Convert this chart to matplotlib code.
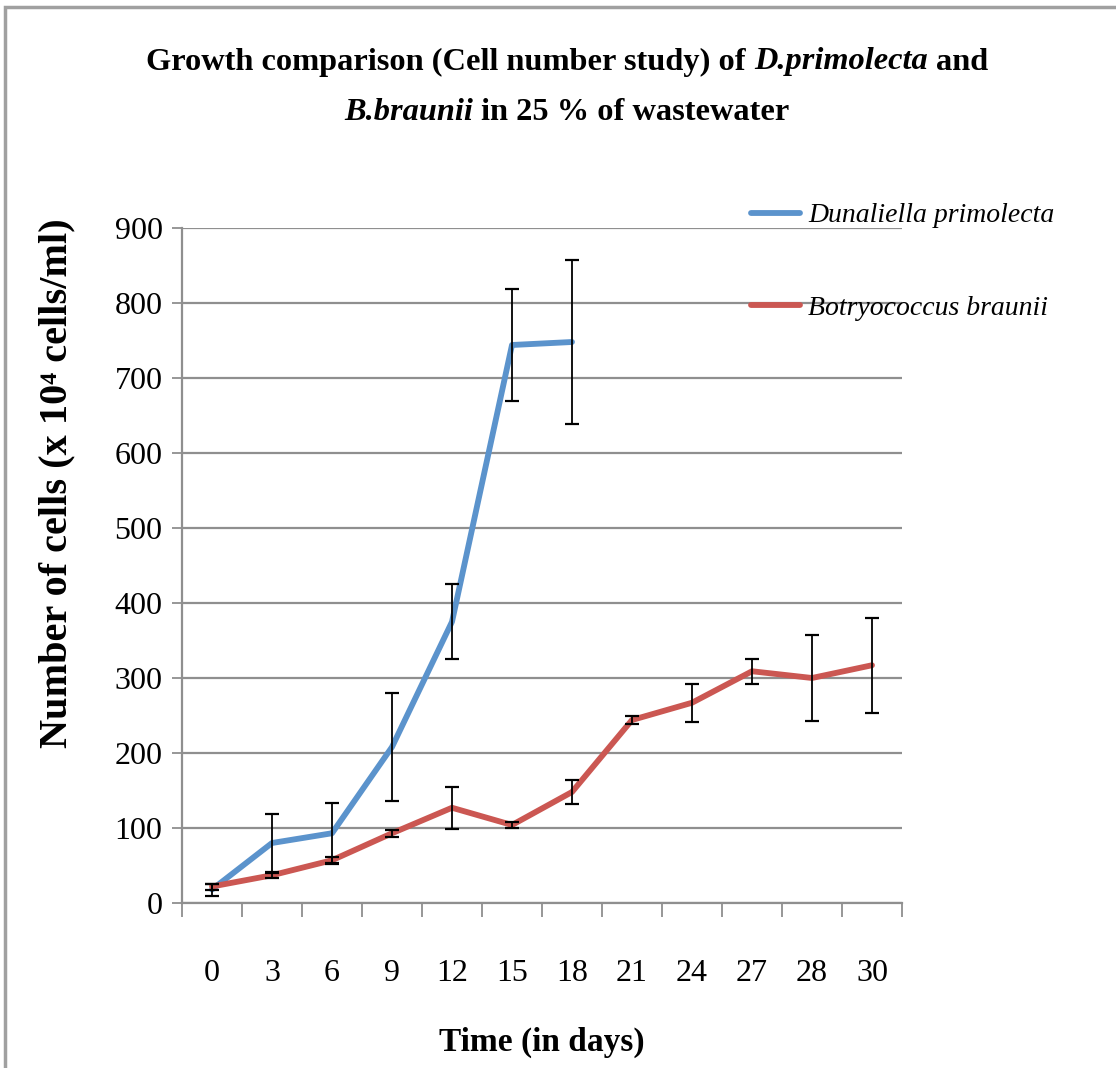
import matplotlib
matplotlib.use("Agg")
import matplotlib.pyplot as plt
from matplotlib.patches import Rectangle
import numpy as np

days = ["0", "3", "6", "9", "12", "15", "18", "21", "24", "27", "28", "30"]
dunaliella = [18, 80, 93, 208, 375, 744, 748]
dunaliella_err = [8, 39, 40, 72, 50, 75, 109]
botryococcus = [22, 37, 57, 93, 127, 104, 148, 244, 267, 309, 300, 317]
botryococcus_err = [4, 3, 5, 5, 28, 4, 16, 5, 25, 17, 57, 63]
yticks = list(range(0, 901, 100))

title_line1 = [("Growth comparison (Cell number study) of ", "normal"),
               ("D.primolecta", "italic"), (" and", "normal")]
title_line2 = [("B.braunii", "italic"), (" in 25 % of wastewater", "normal")]

plt.rcParams['font.family'] = ['Liberation Serif', 'DejaVu Serif']

fig = plt.figure(figsize=(11.16, 10.68), dpi=100)
W, H = 1116, 1068
ax = fig.add_axes([182 / W, 1 - 903 / H, (902 - 182) / W, (903 - 228) / H])

blue = '#5B93CC'
red = '#CB5752'
grid_c = '#8f8f8f'

x_all = np.arange(len(days))
xb = x_all[:len(dunaliella)]

ax.plot(xb, dunaliella, color=blue, lw=4.2, solid_capstyle='round', zorder=3,
        label='Dunaliella primolecta')
ax.plot(x_all, botryococcus, color=red, lw=4.2, solid_capstyle='round', zorder=3,
        label='Botryococcus braunii')
ax.errorbar(xb, dunaliella, yerr=dunaliella_err, fmt='none', ecolor='black',
            elinewidth=1.3, capsize=5, capthick=1.6, zorder=4)
ax.errorbar(x_all, botryococcus, yerr=botryococcus_err, fmt='none', ecolor='black',
            elinewidth=1.3, capsize=5, capthick=1.6, zorder=4)

ax.set_xlim(-0.5, len(days) - 0.5)
ax.set_ylim(0, 900)
ax.set_yticks(yticks)
ax.set_yticklabels([str(v) for v in yticks], fontsize=23)
ax.yaxis.grid(True, color=grid_c, lw=1.6)
ax.set_axisbelow(True)
ax.tick_params(axis='y', length=7, width=1.3, color=grid_c, pad=7)

ax.set_xticks(x_all)
ax.set_xticklabels(days, fontsize=23)
ax.set_xticks(np.arange(-0.5, len(days)), minor=True)
ax.tick_params(axis='x', which='major', length=0, pad=40)
ax.tick_params(axis='x', which='minor', length=10, width=1.3, color=grid_c)

for s in ['top', 'right']:
    ax.spines[s].set_visible(False)
for s in ['left', 'bottom']:
    ax.spines[s].set_color(grid_c)
    ax.spines[s].set_linewidth(1.6)

ax.set_xlabel('Time (in days)', fontsize=24, fontweight='bold', labelpad=28)
fig.text(57 / W, 1 - 483 / H, 'Number of cells (x 10\u2074 cells/ml)', rotation=90,
         fontsize=29, fontweight='bold', ha='center', va='center')

# Title with mixed italic pieces
renderer = fig.canvas.get_renderer()
title_size = 23.3


def measure(txt, style):
    t = fig.text(0, 0, txt, fontsize=title_size, fontweight='bold', fontstyle=style)
    w = t.get_window_extent(renderer).width
    t.remove()
    return w


space_w = measure("a a", "normal") - measure("aa", "normal")


def draw_line(pieces, yc):
    widths = []
    for txt, st in pieces:
        core = txt.strip()
        lead = len(txt) - len(txt.lstrip())
        trail = len(txt) - len(txt.rstrip())
        widths.append((lead * space_w, measure(core, st), trail * space_w, core, st))
    total = sum(a + b + c for a, b, c, _, _ in widths)
    x = W / 2 + 9 - total / 2
    for lead, w, trail, core, st in widths:
        x += lead
        fig.text(x / W, 1 - yc / H, core, fontsize=title_size, fontweight='bold',
                 fontstyle=st, ha='left', va='center')
        x += w + trail


draw_line(title_line1, 62)
draw_line(title_line2, 112)

leg = ax.legend(loc='upper left', bbox_to_anchor=(751 / W, 1 - 203 / H),
                bbox_transform=fig.transFigure, frameon=False,
                prop={'family': 'Liberation Serif', 'style': 'italic', 'size': 20},
                handlelength=1.75, handletextpad=0.3, labelspacing=2.42,
                borderaxespad=0, borderpad=0)

fig.add_artist(Rectangle((5 / W, -0.1), 1.2, 1 - 7 / H + 0.1, transform=fig.transFigure,
                         fill=False, edgecolor='#a0a0a0', lw=2.5))

fig.savefig('out.png', dpi=100)
